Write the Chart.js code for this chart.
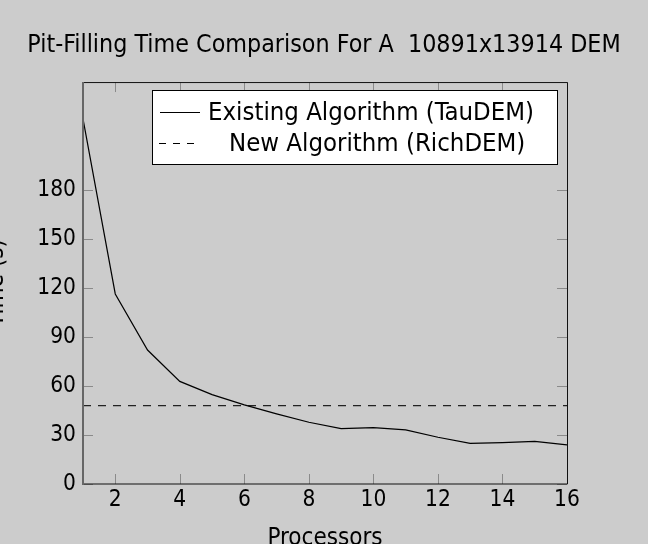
<!DOCTYPE html>
<html>
<head>
<meta charset="utf-8">
<script src="https://cdn.jsdelivr.net/npm/chart.js@4"></script>
<style>
  html, body { margin: 0; padding: 0; background: #cccccc; }
  canvas { display: block; }
</style>
</head>
<body>
<canvas id="chart" width="648" height="544"></canvas>
<script>
// data
const processors = [1, 2, 3, 4, 5, 6, 7, 8, 9, 10, 11, 12, 13, 14, 15, 16];
const tauDemTimes = [223.5, 116.3, 82, 62.8, 54.7, 48.4, 42.9, 37.8, 33.9, 34.5, 33.1, 28.6, 24.9, 25.3, 26.1, 23.9];
const richDemTimes = [48, 48, 48, 48, 48, 48, 48, 48, 48, 48, 48, 48, 48, 48, 48, 48];
const xTickValues = [2, 4, 6, 8, 10, 12, 14, 16];
const yTickValues = [0, 30, 60, 90, 120, 150, 180];
const seriesLabels = ['Existing Algorithm (TauDEM)', 'New Algorithm (RichDEM)'];

const FONT = '"DejaVu Sans Condensed", "DejaVu Sans"';
const toPoints = (ys) => processors.map((x, i) => ({ x: x, y: ys[i] }));

// frame, inward tick marks, axis titles and the boxed legend
const decorations = {
  id: 'decorations',
  afterDatasetsDraw(chart) {
    const ctx = chart.ctx;
    const a = chart.chartArea;
    const xs = chart.scales.x, ys = chart.scales.y;
    const tl = 10;
    ctx.save();

    // tick marks pointing into the plot, on all four sides
    ctx.strokeStyle = '#8a8a8a';
    ctx.lineWidth = 1;
    ctx.beginPath();
    xTickValues.forEach(v => {
      const px = Math.round(xs.getPixelForValue(v)) + 0.5;
      ctx.moveTo(px, a.bottom); ctx.lineTo(px, a.bottom - tl);
      ctx.moveTo(px, a.top); ctx.lineTo(px, a.top + tl);
    });
    yTickValues.forEach(v => {
      const py = Math.round(ys.getPixelForValue(v)) + 0.5;
      ctx.moveTo(a.left, py); ctx.lineTo(a.left + tl, py);
      ctx.moveTo(a.right, py); ctx.lineTo(a.right - tl, py);
    });
    ctx.stroke();

    // frame
    ctx.strokeStyle = '#111';
    ctx.lineWidth = 1;
    ctx.beginPath();
    ctx.moveTo(a.left, a.top + 0.5); ctx.lineTo(a.right + 0.5, a.top + 0.5);
    ctx.lineTo(a.right + 0.5, a.bottom); ctx.lineTo(a.left, a.bottom);
    ctx.stroke();
    ctx.strokeStyle = '#666';
    ctx.lineWidth = 2;
    ctx.beginPath();
    ctx.moveTo(a.left, a.top); ctx.lineTo(a.left, a.bottom + 1);
    ctx.stroke();

    // axis titles (partly cut by the canvas edge, as in the reference)
    ctx.fillStyle = '#000';
    ctx.font = '24px ' + FONT;
    ctx.textAlign = 'center';
    ctx.textBaseline = 'alphabetic';
    ctx.fillText('Processors', (a.left + a.right) / 2, 545);
    ctx.save();
    ctx.translate(2.5, (a.top + a.bottom) / 2);
    ctx.rotate(-Math.PI / 2);
    ctx.fillText('Time (s)', 0, 0);
    ctx.restore();

    // legend box
    const lx = 152, ly = 90, lw = 405, lh = 74;
    ctx.fillStyle = '#fff';
    ctx.fillRect(lx, ly, lw, lh);
    ctx.strokeStyle = '#000';
    ctx.lineWidth = 1;
    ctx.strokeRect(lx + 0.5, ly + 0.5, lw, lh);

    ctx.strokeStyle = '#000';
    ctx.beginPath();
    ctx.moveTo(160, 112.5); ctx.lineTo(200, 112.5);
    ctx.stroke();
    ctx.setLineDash([7, 7]);
    ctx.beginPath();
    ctx.moveTo(159, 143.5); ctx.lineTo(194, 143.5);
    ctx.stroke();
    ctx.setLineDash([]);

    ctx.fillStyle = '#000';
    ctx.font = '25.5px ' + FONT;
    ctx.textAlign = 'left';
    ctx.textBaseline = 'alphabetic';
    ctx.fillText(seriesLabels[0], 208, 119.5);
    ctx.fillText(seriesLabels[1], 229, 151);
    ctx.restore();
  }
};

new Chart(document.getElementById('chart'), {
  type: 'line',
  data: {
    datasets: [{
      label: seriesLabels[0],
      data: toPoints(tauDemTimes),
      borderColor: '#000',
      borderWidth: 1.2,
      pointRadius: 0,
      tension: 0,
      fill: false
    }, {
      label: seriesLabels[1],
      data: toPoints(richDemTimes),
      borderColor: '#222',
      borderWidth: 1.2,
      borderDash: [8, 7],
      pointRadius: 0,
      tension: 0,
      fill: false
    }]
  },
  options: {
    responsive: false,
    devicePixelRatio: 1,
    animation: false,
    layout: { padding: 0 },
    plugins: {
      legend: { display: false },
      tooltip: { enabled: false },
      title: {
        display: true,
        text: 'Pit-Filling Time Comparison For A  10891x13914 DEM',
        color: '#000',
        font: { family: FONT, size: 24.8, weight: 'normal', lineHeight: 1.2 },
        padding: { top: 30.3, bottom: 22 }
      }
    },
    scales: {
      x: {
        type: 'linear',
        min: 1,
        max: 16,
        afterBuildTicks: (s) => { s.ticks = xTickValues.map(v => ({ value: v })); },
        afterFit: (s) => { s.height = 60; },
        grid: { display: false, drawTicks: false },
        border: { display: false },
        ticks: {
          color: '#000',
          font: { family: FONT, size: 22.5 },
          padding: 3,
          maxRotation: 0,
          autoSkip: false
        }
      },
      y: {
        min: 0,
        max: 246,
        afterBuildTicks: (s) => { s.ticks = yTickValues.map(v => ({ value: v })); },
        afterFit: (s) => { s.width = 83; },
        grid: { display: false, drawTicks: false },
        border: { display: false },
        ticks: {
          color: '#000',
          font: { family: FONT, size: 22.5 },
          padding: 7,
          autoSkip: false
        }
      },
      // empty right-hand axis, only reserves the margin right of the plot
      yRight: {
        position: 'right',
        min: 0,
        max: 246,
        afterFit: (s) => { s.width = 81; },
        grid: { display: false, drawTicks: false },
        border: { display: false },
        ticks: { display: false }
      }
    }
  },
  plugins: [decorations]
});
</script>
</body>
</html>
